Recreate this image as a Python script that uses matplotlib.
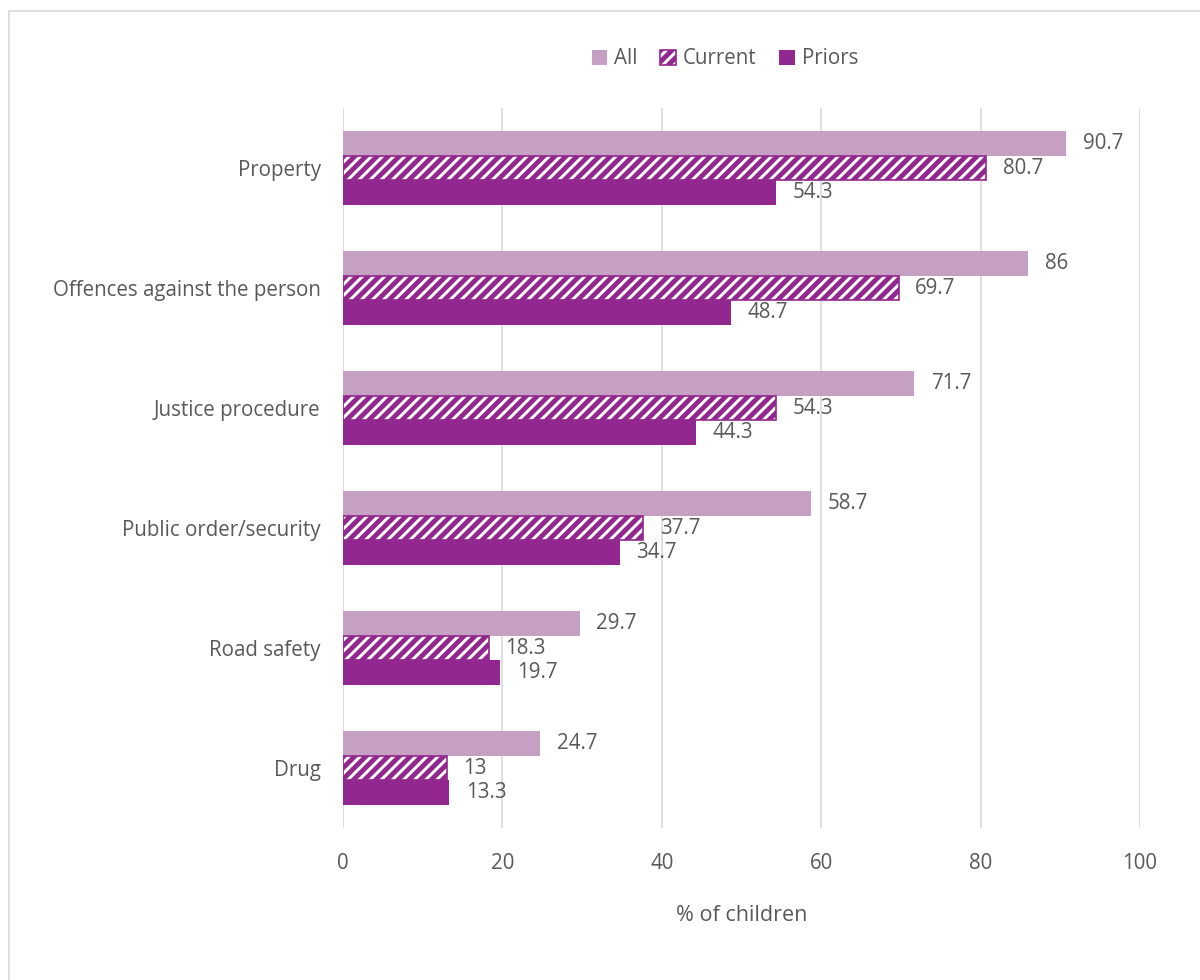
import numpy as np
import matplotlib.pyplot as plt
from matplotlib.patches import Rectangle

categories = ['Property', 'Offences against the person', 'Justice procedure',
              'Public order/security', 'Road safety', 'Drug']
all_vals = [90.7, 86, 71.7, 58.7, 29.7, 24.7]
current_vals = [80.7, 69.7, 54.3, 37.7, 18.3, 13]
prior_vals = [54.3, 48.7, 44.3, 34.7, 19.7, 13.3]
xticks = [0, 20, 40, 60, 80, 100]

plt.rcParams['font.family'] = ['Open Sans', 'DejaVu Sans']
plt.rcParams['hatch.linewidth'] = 3.5
grey = '#595959'
c_all = '#C5A0C3'
c_prior = '#92278F'
fs = 14.8

fig = plt.figure(figsize=(12, 9.8), dpi=100)
ax = fig.add_axes([343 / 1200, 1 - 828 / 980, (1140 - 343) / 1200, 720 / 980])

# chart border
fig.patches.append(Rectangle((9 / 1200, -0.01), 1.2, 1 - 11 / 980 + 0.01,
                             transform=fig.transFigure, fill=False,
                             edgecolor='#D9D9D9', linewidth=1.2))

y = np.arange(len(categories))
h = 0.208

b1 = ax.barh(y - h, all_vals, height=h, color=c_all, label='All')
b2 = ax.barh(y, current_vals, height=h * 0.94, color='white', edgecolor=c_prior,
             hatch='///', linewidth=1.2, label='Current')
b3 = ax.barh(y + h, prior_vals, height=h, color=c_prior, label='Priors')

for bars, vals in [(b1, all_vals), (b2, current_vals), (b3, prior_vals)]:
    for bar, v in zip(bars, vals):
        ax.annotate(f'{v:g}', (bar.get_width(), bar.get_y() + bar.get_height() / 2),
                    xytext=(12, 0), textcoords='offset points', va='center',
                    ha='left', fontsize=fs, color=grey)

ax.set_xlim(0, 100)
ax.set_ylim(len(categories) - 0.5, -0.5)
ax.set_xticks(xticks)
ax.set_yticks(y)
ax.set_yticklabels(categories)
ax.tick_params(axis='both', length=0, labelsize=fs, colors=grey)
ax.tick_params(axis='x', pad=18)
ax.tick_params(axis='y', pad=16)
ax.grid(axis='x', color='#D9D9D9', linewidth=1.2)
ax.set_axisbelow(True)
for s in ax.spines.values():
    s.set_visible(False)
ax.axvline(0, color='#D9D9D9', linewidth=1.2, zorder=0)

ax.set_xlabel('% of children', fontsize=15.5, color=grey, labelpad=22)

fig.legend(handles=[b1, b2, b3], loc='center', bbox_to_anchor=(725 / 1200, 1 - 59 / 980),
           ncol=3, frameon=False, fontsize=fs, labelcolor=grey,
           handlelength=0.75, handleheight=0.75, handletextpad=0.35, columnspacing=1.1)

fig.savefig('out.png', dpi=100)
